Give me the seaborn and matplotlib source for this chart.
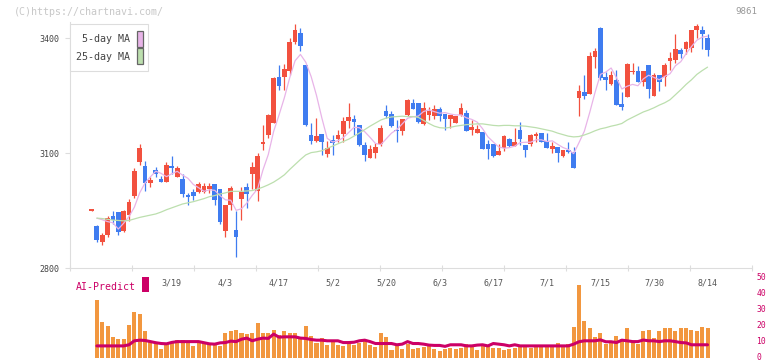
import numpy as np
import pandas as pd
import matplotlib
matplotlib.use("Agg")
import matplotlib.pyplot as plt
import seaborn as sns
from matplotlib.patches import Rectangle

nan = np.nan

# ---------------- data ----------------
opens = [2950, 2910, 2869, 2886, 2936, 2946, 2897, 2938, 2988, 3077,
         3067, 3023, 3056, 3032, 3025, 3067, 3038, 3032, 2991, 2997,
         2997, 2997, 3007, 3019, 3006, 2897, 2964, 2899, 2981, 3011,
         3044, 3000, 3124, 3146, 3177, 3297, 3299, 3313, 3390, 3414,
         3329, 3146, 3132, 3150, 3097, 3135, 3137, 3150, 3184, 3190,
         3172, 3122, 3087, 3100, 3123, 3210, 3202, 3159, 3158, 3200,
         3230, 3230, 3176, 3200, 3197, 3215, 3203, 3190, 3178, 3200,
         3204, 3161, 3152, 3155, 3123, 3123, 3096, 3113, 3136, 3119,
         3159, 3121, 3123, 3145, 3152, 3131, 3110, 3116, 3093, 3107,
         3102, 3243, 3259, 3254, 3350, 3426, 3297, 3281, 3290, 3228,
         3247, 3312, 3314, 3286, 3330, 3250, 3304, 3299, 3341, 3343,
         3369, 3372, 3375, 3421, 3421, 3400]
highs = [2952, 2913, 2891, 2935, 2950, 2946, 2951, 2979, 3061, 3124,
         3078, 3038, 3064, 3039, 3076, 3091, 3066, 3045, 2995, 3005,
         3025, 3021, 3023, 3019, 3006, 2964, 3013, 2950, 3012, 3022,
         3077, 3100, 3172, 3203, 3299, 3329, 3331, 3400, 3437, 3426,
         3330, 3178, 3191, 3150, 3132, 3146, 3160, 3193, 3230, 3198,
         3172, 3130, 3120, 3126, 3172, 3224, 3209, 3185, 3189, 3242,
         3242, 3230, 3233, 3219, 3224, 3220, 3203, 3198, 3197, 3230,
         3212, 3187, 3172, 3155, 3135, 3123, 3123, 3148, 3139, 3165,
         3180, 3121, 3150, 3155, 3152, 3152, 3130, 3116, 3108, 3129,
         3116, 3278, 3303, 3364, 3375, 3429, 3311, 3313, 3317, 3260,
         3334, 3336, 3327, 3314, 3330, 3308, 3304, 3336, 3364, 3411,
         3374, 3393, 3421, 3437, 3432, 3411]
lows = [2950, 2868, 2861, 2882, 2915, 2887, 2894, 2922, 2983, 3068,
        3002, 3011, 3037, 3025, 3025, 3045, 3038, 2986, 2964, 2977,
        2995, 2995, 2995, 2964, 2914, 2880, 2952, 2830, 2924, 2957,
        3007, 2974, 3109, 3139, 3177, 3265, 3264, 3304, 3384, 3367,
        3170, 3124, 3128, 3094, 3089, 3096, 3130, 3130, 3165, 3148,
        3119, 3080, 3087, 3087, 3117, 3191, 3167, 3129, 3148, 3196,
        3216, 3179, 3172, 3187, 3189, 3184, 3159, 3165, 3178, 3197,
        3158, 3146, 3152, 3110, 3085, 3089, 3096, 3106, 3115, 3119,
        3122, 3090, 3119, 3128, 3130, 3114, 3100, 3076, 3090, 3100,
        3061, 3197, 3242, 3254, 3322, 3291, 3265, 3278, 3225, 3212,
        3245, 3306, 3286, 3275, 3244, 3250, 3263, 3276, 3317, 3334,
        3347, 3357, 3364, 3401, 3372, 3354]
closes = [2952, 2873, 2886, 2930, 2924, 2895, 2949, 2972, 3053, 3112,
          3023, 3030, 3044, 3025, 3069, 3062, 3061, 2994, 2984, 2989,
          3019, 3014, 3014, 2977, 2920, 2964, 3009, 2882, 2998, 2994,
          3064, 3093, 3129, 3200, 3296, 3276, 3319, 3390, 3422, 3379,
          3174, 3132, 3144, 3128, 3113, 3127, 3148, 3184, 3195, 3181,
          3122, 3096, 3110, 3116, 3165, 3197, 3171, 3157, 3189, 3239,
          3216, 3181, 3217, 3209, 3216, 3196, 3189, 3198, 3197, 3217,
          3158, 3168, 3163, 3111, 3111, 3091, 3104, 3145, 3119, 3130,
          3137, 3109, 3146, 3150, 3130, 3114, 3119, 3101, 3108, 3103,
          3061, 3262, 3250, 3352, 3366, 3296, 3291, 3304, 3225, 3219,
          3332, 3315, 3286, 3314, 3267, 3304, 3284, 3330, 3349, 3371,
          3357, 3390, 3421, 3432, 3411, 3370]
volume = [nan, 36, 22.5, 19.5, 12.6, 11.4, 11.4, 20.2, 28.4, 27.6,
          16.6, 10.2, 9.3, 5.1, 8.2, 9.3, 11.1, 11.3, 10.4, 7,
          10, 9, 9, 8.5, 7.5, 15.1, 16.4, 17.4, 15.7, 14.7,
          15.7, 21.4, 15.1, 15.7, 17.4, 14.3, 16.4, 15.7, 15.1, 12,
          19.5, 13.6, 9.4, 12, 7.8, 9.9, 7.8, 7.1, 8.4, 7.8,
          9.4, 10.9, 7.8, 6.3, 15.1, 12.6, 5, 7.1, 5.2, 8.4,
          5.2, 5.9, 6.7, 7.3, 5.2, 4.2, 5.2, 5.9, 5.2, 5.9,
          8.8, 6.3, 4.6, 7.3, 7.3, 5.7, 5.7, 4.6, 5.2, 5.9,
          6.7, 6.3, 5.7, 6.7, 6.7, 6.7, 6.7, 9.4, 6.7, 8.8,
          18.9, 45.5, 22.7, 18.3, 13.2, 15.7, 8.4, 9.5, 13.8, 11.8,
          18.3, 9.3, 8.7, 16.5, 17.5, 12, 16.5, 18.3, 18.3, 16.8,
          18.3, 18.3, 17.5, 16.5, 19, 18.3]
ai_predict = [nan, 7.3, 7.3, 7.3, 7.3, 7.3, 7.3, 8, 10.5, 10.9,
              10.7, 10, 9.3, 8.8, 8.6, 9.5, 10, 10, 10, 10,
              10, 9.3, 8.6, 8.4, 9.2, 9.4, 10.3, 10, 11.5, 12.2,
              10.5, 11.5, 12.2, 12, 14.7, 12.8, 13, 13, 13, 12.2,
              12, 11.3, 10.9, 10.9, 10.5, 10.5, 10.5, 9.4, 9.4, 9.6,
              10.5, 10.9, 10, 8.8, 8.8, 8.8, 8.8, 8, 8.4, 10,
              8.8, 8.8, 8.4, 7.8, 7.6, 7.6, 7, 8, 8, 8,
              7.3, 7.3, 7.8, 8, 7.3, 8.8, 8.4, 8, 7.3, 8,
              7.3, 7.3, 7.3, 7.3, 7.3, 7.3, 7.3, 7.3, 7.3, 7.3,
              8.4, 9.9, 10.5, 10.5, 10.5, 11.1, 9.9, 9.9, 9.4, 10.9,
              10.5, 10, 10, 11, 10.5, 10.5, 10, 10.5, 10.5, 10,
              9.4, 9.2, 8, 8, 8, 8]
ma25 = [nan, 2930, 2929, 2927, 2925, 2924, 2923, 2924, 2928, 2932,
        2935, 2938, 2941, 2946, 2952, 2957, 2962, 2967, 2970, 2973,
        2977, 2981, 2986, 2989, 2993, 2996, 3000, 3000, 3000, 3001,
        3002, 3006, 3011, 3017, 3024, 3033, 3043, 3057, 3070, 3083,
        3095, 3101, 3103, 3106, 3112, 3118, 3124, 3130, 3136, 3144,
        3152, 3161, 3170, 3178, 3186, 3191, 3194, 3195, 3196, 3195,
        3195, 3193, 3185, 3177, 3170, 3166, 3165, 3167, 3170, 3172,
        3174, 3175, 3176, 3176, 3174, 3172, 3171, 3172, 3172, 3171,
        3171, 3170, 3168, 3166, 3163, 3160, 3157, 3152, 3148, 3144,
        3142, 3143, 3147, 3152, 3158, 3163, 3166, 3170, 3173, 3177,
        3186, 3193, 3200, 3207, 3212, 3218, 3225, 3231, 3239, 3252,
        3265, 3279, 3291, 3305, 3315, 3324]
ma5_head = [2930, 2926, 2921, 2918]   # 5-day MA read for candles 1-4

date_labels = ["3/19", "4/3", "4/17", "5/2", "5/20", "6/3", "6/17",
               "7/1", "7/15", "7/30", "8/14"]
date_label_index = [15, 25, 35, 45, 55, 65, 75, 85, 95, 105, 115]
price_ticks = [2800, 3100, 3400]
vol_ticks = [0, 10, 20, 30, 40, 50]
ticker = "9861"

# ---------------- styling ----------------
UP = "#f2513f"
DOWN = "#3f7cf0"
VOLC = "#f2973f"
AIC = "#cc0066"
MA5C = "#e8b4e8"
MA25C = "#bcdfae"
GRID = "#dddddd"
TXT = "#555555"

sns.set_theme(style="white")
plt.rcParams["font.family"] = ["DejaVu Sans Mono", "DejaVu Sans"]

W, H = 772, 361
fig = plt.figure(figsize=(W / 100, H / 100), dpi=100)
fig.patch.set_facecolor("white")

def fx(x):
    return x / W

def fy(y):
    return 1 - y / H

df = pd.DataFrame({"idx": np.arange(len(closes)), "open": opens, "high": highs,
                   "low": lows, "close": closes, "vol": volume,
                   "ai": ai_predict, "ma25": ma25})
ma5 = df["close"].rolling(5).mean()
ma5.iloc[0] = nan
ma5.iloc[1:5] = ma5_head
df["ma5"] = ma5

x0 = (70 - 91.5) / 5.357
x1 = (752 - 91.5) / 5.357

VZERO = 357.5      # pixel row of volume zero
VSCALE = 1.59      # pixels per volume unit
VTOP = 275

ax = fig.add_axes([fx(70), fy(268), fx(682), (268 - 22) / H])
axv = fig.add_axes([fx(70), fy(VZERO), fx(682), (VZERO - VTOP) / H])
axv.set_facecolor("none")
ax.set_facecolor("none")

# candles
up = df["close"] >= df["open"]
body_lo = np.minimum(df["open"], df["close"])
body_h = np.maximum((df["close"] - df["open"]).abs(), 3.0)
colors = np.where(up, UP, DOWN)
ax.vlines(df["idx"], df["low"], df["high"], colors=colors, linewidth=0.9, zorder=2)
ax.bar(df["idx"], body_h, bottom=body_lo, width=0.88, color=colors,
       linewidth=0, zorder=2)

sns.lineplot(data=df, x="idx", y="ma5", ax=ax, color=MA5C, linewidth=0.9, zorder=3)
sns.lineplot(data=df, x="idx", y="ma25", ax=ax, color=MA25C, linewidth=0.9, zorder=3)

ax.set_xlim(x0, x1)
ax.set_ylim(2800, 3400 + 16 * 600 / 230)
ax.set_xlabel("")
ax.set_ylabel("")
for s in ["top", "right"]:
    ax.spines[s].set_visible(False)
for s in ["left", "bottom"]:
    ax.spines[s].set_color(GRID)
    ax.spines[s].set_linewidth(0.8)

ax.set_xticks(np.linspace(x0, x1, 12))
ax.set_xticklabels([])
ax.set_xticks(date_label_index, minor=True)
ax.set_xticklabels(date_labels, minor=True)
ax.tick_params(axis="x", which="major", length=4, direction="inout",
               color=GRID, width=0.8, bottom=True)
ax.tick_params(axis="x", which="minor", length=0, pad=7.3, labelsize=6,
               labelcolor=TXT, bottom=True)
ax.set_yticks(price_ticks)
ax.set_yticklabels([str(v) for v in price_ticks])
ax.tick_params(axis="y", length=3.6, direction="out", color=GRID, width=0.8,
               pad=4, labelsize=6, labelcolor="#444444", left=True)

# volume + AI predict
vdf = df.dropna(subset=["vol"])
sns.barplot(data=vdf, x="idx", y="vol", ax=axv, native_scale=True, color=VOLC,
            saturation=1, width=0.75, errorbar=None, linewidth=0, zorder=2)
sns.lineplot(data=df, x="idx", y="ai", ax=axv, color=AIC, linewidth=2.2, zorder=3)
axv.set_xlim(x0, x1)
axv.set_ylim(0, (VZERO - VTOP) / VSCALE)
axv.set_xlabel("")
axv.set_ylabel("")
for s in axv.spines.values():
    s.set_visible(False)
axv.set_xticks([])
axv.yaxis.tick_right()
axv.set_yticks(vol_ticks)
axv.set_yticklabels([str(v) for v in vol_ticks])
axv.tick_params(axis="y", length=0, pad=3, labelsize=5.8, labelcolor=AIC,
                right=True, left=False)
for lab in axv.get_yticklabels():
    lab.set_verticalalignment("center")

# legend box
fig.add_artist(Rectangle((fx(70), fy(71)), fx(78), 47 / H, transform=fig.transFigure,
                         facecolor="white", edgecolor=GRID, linewidth=0.8, zorder=5))
fig.text(fx(129.5), fy(39), "5-day MA", ha="right", va="center", fontsize=7.2,
         color="#444444", zorder=6)
fig.text(fx(129.5), fy(56.5), "25-day MA", ha="right", va="center", fontsize=7.2,
         color="#444444", zorder=6)
fig.add_artist(Rectangle((fx(136.5), fy(46.5)), fx(6), 15 / H, transform=fig.transFigure,
                         facecolor=MA5C, edgecolor="#666666", linewidth=0.9, zorder=6))
fig.add_artist(Rectangle((fx(136.5), fy(63.5)), fx(6), 15 / H, transform=fig.transFigure,
                         facecolor=MA25C, edgecolor="#666666", linewidth=0.9, zorder=6))

# AI-Predict label
fig.text(fx(76), fy(286.5), "AI-Predict", ha="left", va="center", fontsize=7.1,
         color=AIC, zorder=6)
fig.add_artist(Rectangle((fx(142), fy(292)), fx(7), 15 / H, transform=fig.transFigure,
                         facecolor=AIC, edgecolor="none", zorder=6))

# watermark and code
fig.text(fx(14), fy(12), "(C)https://chartnavi.com/", ha="left", va="center",
         fontsize=7.2, color="#c8c8c8")
fig.text(fx(757), fy(12), ticker, ha="right", va="center", fontsize=6.6, color="#999999")

fig.savefig("out.png", dpi=100, facecolor="white")
